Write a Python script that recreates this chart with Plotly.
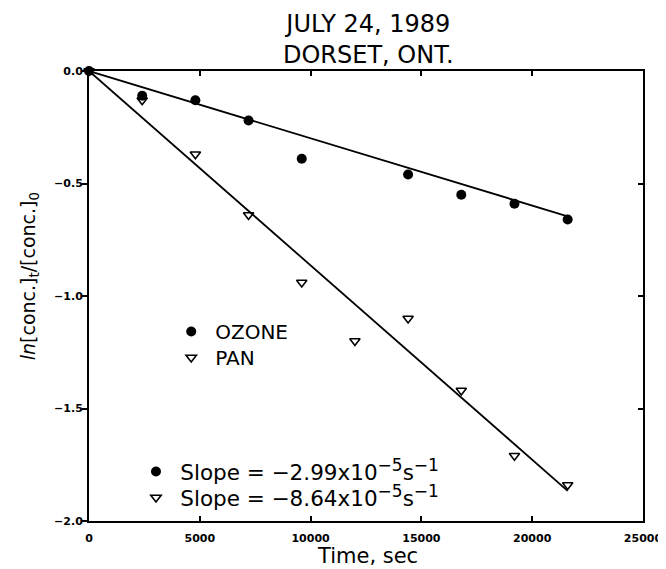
import plotly.graph_objects as go

# ---- data ----
time_ozone = [0, 2400, 4800, 7200, 9600, 14400, 16800, 19200, 21600]
ozone = [0.0, -0.11, -0.13, -0.22, -0.39, -0.46, -0.55, -0.59, -0.66]
time_pan = [0, 2400, 4800, 7200, 9600, 12000, 14400, 16800, 19200, 21600]
pan = [0.0, -0.13, -0.37, -0.64, -0.94, -1.20, -1.10, -1.42, -1.71, -1.84]

slope_ozone = -2.99e-5
slope_pan = -8.64e-5
fit_time = [0, 21600]

x_ticks = [0, 5000, 10000, 15000, 20000, 25000]
y_ticks = [0.0, -0.5, -1.0, -1.5, -2.0]

title_lines = ["JULY 24, 1989", "DORSET, ONT."]
TS = "\u2009"
SUP = '<sup><span style="font-size:17px">{}</span></sup>'
slope_labels = [TS + "Slope = \u22122.99x10" + SUP.format("\u22125") + "s" + SUP.format("\u22121"),
                TS + "Slope = \u22128.64x10" + SUP.format("\u22125") + "s" + SUP.format("\u22121")]

FONT = "DejaVu Sans"
L, R, T, B = 81, 19, 63, 56
W, H = 666, 569
PW, PH = W - L - R, H - T - B


def px(xp):
    return (xp - L) / PW


def py(yp):
    return (H - B - yp) / PH


fig = go.Figure()

circle = dict(symbol="circle", size=10, color="black")
tri = dict(symbol="triangle-down-open", size=9, color="black", line=dict(width=1.6, color="black"))

fig.add_trace(go.Scatter(x=fit_time, y=[slope_ozone * t for t in fit_time], mode="lines",
                         line=dict(color="black", width=1.8), showlegend=False, cliponaxis=False))
fig.add_trace(go.Scatter(x=fit_time, y=[slope_pan * t for t in fit_time], mode="lines",
                         line=dict(color="black", width=1.8), showlegend=False, cliponaxis=False))
fig.add_trace(go.Scatter(x=time_ozone, y=ozone, mode="markers", name=TS + "OZONE", marker=circle,
                         legend="legend", cliponaxis=False))
fig.add_trace(go.Scatter(x=time_pan, y=pan, mode="markers", name=TS + "PAN", marker=tri,
                         legend="legend2", cliponaxis=False))
fig.add_trace(go.Scatter(x=[None], y=[None], mode="markers", name=slope_labels[0], marker=circle,
                         legend="legend3", yaxis="y2"))
fig.add_trace(go.Scatter(x=[None], y=[None], mode="markers", name=slope_labels[1], marker=tri,
                         legend="legend4", yaxis="y2"))

axis_common = dict(showline=True, linecolor="black", linewidth=2, showgrid=False, zeroline=False,
                   tickcolor="black", tickwidth=1.5, ticklen=5, ticklabeloverflow="allow",
                   tickfont=dict(family=FONT, size=11, color="black", weight="bold"))


def leg(marker_x, row_y, size):
    return dict(x=px(marker_x - 19), y=py(row_y - 20), xanchor="left", yanchor="top",
                bgcolor="rgba(0,0,0,0)", font=dict(family=FONT, size=size, color="black"),
                itemwidth=30)


fig.update_layout(
    width=W, height=H,
    margin=dict(l=L, r=R, t=T, b=B, pad=0),
    paper_bgcolor="white", plot_bgcolor="white",
    xaxis=dict(range=[0, 25000], tickvals=x_ticks, ticktext=[str(v) for v in x_ticks],
               ticks="inside", mirror="ticks", ticklabelstandoff=6, **axis_common),
    yaxis=dict(range=[-2.0, 0.0], tickvals=y_ticks, tickformat=".1f",
               ticks="outside", mirror=False, ticklabelstandoff=-3, **axis_common),
    yaxis2=dict(range=[-2.0, 0.0], overlaying="y", side="right", tickvals=y_ticks,
                ticks="inside", showticklabels=False, **axis_common),
    legend=leg(184, 324, 20),
    legend2=leg(184, 350, 20),
    legend3=leg(148, 463, 21.5),
    legend4=leg(148, 489, 21.5),
    showlegend=True,
)

fig.add_annotation(text="<br>".join(title_lines), x=px(367), y=py(32), xref="paper", yref="paper",
                   xanchor="center", yanchor="middle", showarrow=False,
                   font=dict(family=FONT, size=24, color="black"))
fig.add_annotation(text="Time, sec", x=px(366), y=py(548), xref="paper", yref="paper",
                   xanchor="center", yanchor="middle", showarrow=False, borderpad=0,
                   font=dict(family=FONT, size=21, color="black"))
fig.add_annotation(text="<i>ln</i>[conc.]<sub>t</sub>/[conc.]<sub>0</sub>", x=px(20), y=py(268),
                   xref="paper", yref="paper", xanchor="center", yanchor="middle", textangle=-90,
                   showarrow=False, font=dict(family=FONT, size=19, color="black"))

fig.write_html("out.html")
